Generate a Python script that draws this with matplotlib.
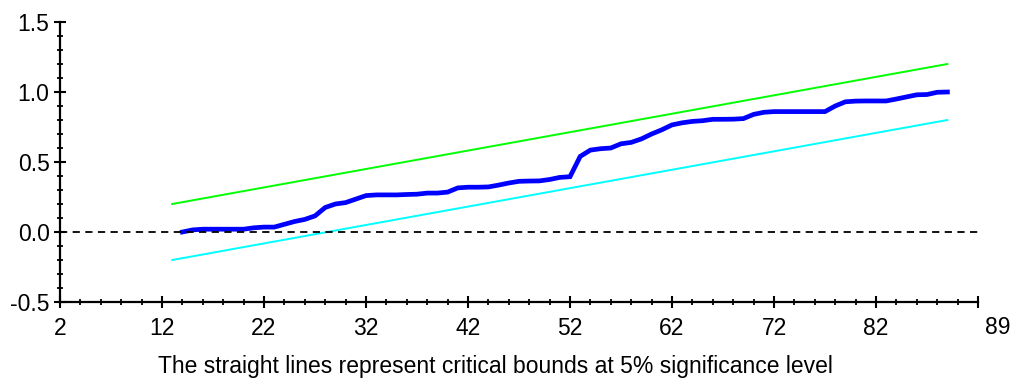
import matplotlib
matplotlib.use("Agg")
import matplotlib.pyplot as plt
from matplotlib.ticker import MultipleLocator

plt.rcParams["font.family"] = ["Liberation Sans", "DejaVu Sans"]

# cumulative sum of squares of recursive residuals
obs = list(range(14, 90))
cusumsq = [
    0.000, 0.015, 0.020, 0.020, 0.020, 0.020, 0.020, 0.030, 0.035, 0.035,
    0.055, 0.075, 0.090, 0.115, 0.175, 0.200, 0.210, 0.235, 0.260, 0.265,
    0.265, 0.265, 0.268, 0.270, 0.278, 0.278, 0.285, 0.315, 0.320, 0.320,
    0.322, 0.335, 0.350, 0.362, 0.364, 0.365, 0.375, 0.390, 0.395, 0.540,
    0.585, 0.595, 0.600, 0.630, 0.640, 0.665, 0.700, 0.730, 0.765, 0.780,
    0.790, 0.795, 0.805, 0.805, 0.806, 0.810, 0.840, 0.855, 0.860, 0.860,
    0.860, 0.860, 0.860, 0.860, 0.900, 0.930, 0.935, 0.936, 0.936, 0.936,
    0.950, 0.965, 0.980, 0.982, 0.998, 1.000,
]

# 5% critical bounds (straight lines)
bound_x = [13, 89]
upper = [0.2, 1.2]
lower = [-0.2, 0.8]

x_ticks = [2, 12, 22, 32, 42, 52, 62, 72, 82]
y_ticks = [-0.5, 0.0, 0.5, 1.0, 1.5]
x_end, x_end_label = 92, "89"
fs = 16.5

fig = plt.figure(figsize=(10.17, 3.79), dpi=100)
ax = fig.add_axes([60 / 1017, 77 / 379, 918 / 1017, 280 / 379])

ax.plot(bound_x, upper, color="#00ff00", lw=1.4)
ax.plot(bound_x, lower, color="#00ffff", lw=1.4)
ax.plot(obs, cusumsq, color="#0000ff", lw=3.4, solid_joinstyle="miter")
ax.axhline(0, color="black", lw=1.3, ls=(0, (4, 3)))

ax.set_xlim(2, x_end)
ax.set_ylim(-0.5, 1.5)
ax.set_xticks(x_ticks + [x_end])
ax.set_xticklabels([str(t) for t in x_ticks] + [""])
ax.xaxis.set_minor_locator(MultipleLocator(2))
ax.set_yticks(y_ticks)
ax.set_yticklabels([f"{v:.1f}" for v in y_ticks])
ax.yaxis.set_minor_locator(MultipleLocator(0.1))

for s in ("top", "right"):
    ax.spines[s].set_visible(False)
for s in ("left", "bottom"):
    ax.spines[s].set_linewidth(1.6)

ax.tick_params(which="major", direction="inout", length=9, width=1.5,
               labelsize=fs, colors="black")
ax.tick_params(axis="x", which="major", pad=6)
ax.tick_params(axis="y", which="major", pad=3)
ax.tick_params(which="minor", direction="inout", length=5, width=1.3)

# the axis end is labelled with the sample size, set off to the right
ax.annotate(x_end_label, xy=(x_end, -0.5), xytext=(20, -13.5),
            textcoords="offset pixels", ha="center", va="top", fontsize=fs,
            annotation_clip=False)

fig.text(495 / 1017, 13 / 379,
         "The straight lines represent critical bounds at 5% significance level",
         ha="center", va="center", fontsize=fs)

fig.savefig("out.png", dpi=100)
